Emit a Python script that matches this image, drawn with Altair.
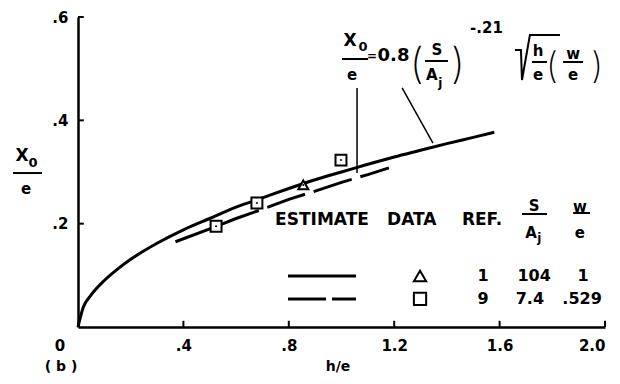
import altair as alt
import pandas as pd

# ---- data ----
curve_h = [0, 0.02, 0.05, 0.1, 0.15, 0.2, 0.3, 0.4, 0.5, 0.6, 0.7, 0.8, 0.9, 1.0, 1.1, 1.2, 1.3, 1.4, 1.5, 1.58]
curve_v = [0, 0.038, 0.062, 0.09, 0.112, 0.131, 0.162, 0.188, 0.21, 0.232, 0.25, 0.268, 0.285, 0.3, 0.315, 0.329, 0.342, 0.355, 0.367, 0.377]

dash_h = [0.37, 0.5, 0.6, 0.7, 0.8, 0.9, 1.0, 1.1, 1.18]
dash_v = [0.165, 0.19, 0.21, 0.228, 0.247, 0.263, 0.28, 0.295, 0.308]

sq_h = [0.524, 0.679, 0.998]
sq_v = [0.195, 0.24, 0.323]
tri_h = [0.855]
tri_v = [0.275]

x_ticks = [0.4, 0.8, 1.2, 1.6, 2.0]
y_ticks = [0.2, 0.4, 0.6]

# legend table
leg_rows_v = [0.0987, 0.0542]
leg_ref = ["1", "9"]
leg_sa = ["104", "7.4"]
leg_we = ["1", ".529"]

# ---- scales / axes ----
FONT = "DejaVu Sans"
xs = alt.Scale(domain=[0, 2.0], nice=False, zero=False)
ys = alt.Scale(domain=[0, 0.6], nice=False, zero=False)
xax = alt.Axis(values=x_ticks, title=None, grid=False, ticks=False, domainColor="black",
               domainWidth=2.5, labelFont=FONT, labelFontWeight="bold", labelFontSize=15,
               labelColor="black", labelPadding=11,
               labelExpr="datum.value < 1 ? substring(format(datum.value, '.1f'), 1) : format(datum.value, '.1f')")
yax = alt.Axis(values=y_ticks, title=None, grid=False, ticks=False, domainColor="black",
               domainWidth=2.5, labelFont=FONT, labelFontWeight="bold", labelFontSize=15,
               labelColor="black", labelPadding=10,
               labelExpr="substring(format(datum.value, '.1f'), 1)")


def X(f="h"):
    return alt.X(f"{f}:Q", scale=xs, axis=xax)


def Y(f="v"):
    return alt.Y(f"{f}:Q", scale=ys, axis=yax)


layers = []

# axis inward ticks
ytk = pd.DataFrame({"h": [0.0] * len(y_ticks), "h2": [0.022] * len(y_ticks), "v": y_ticks})
layers.append(alt.Chart(ytk).mark_rule(color="black", strokeWidth=2).encode(x=X(), x2="h2:Q", y=Y()))
xtk = pd.DataFrame({"h": x_ticks, "v": [0.0] * len(x_ticks), "v2": [0.012] * len(x_ticks)})
layers.append(alt.Chart(xtk).mark_rule(color="black", strokeWidth=2).encode(x=X(), y=Y(), y2="v2:Q"))

# curves
cdf = pd.DataFrame({"h": curve_h, "v": curve_v})
layers.append(alt.Chart(cdf).mark_line(color="black", strokeWidth=3, interpolate="monotone").encode(x=X(), y=Y()))
ddf = pd.DataFrame({"h": dash_h, "v": dash_v})
layers.append(alt.Chart(ddf).mark_line(color="black", strokeWidth=3, strokeDash=[40, 9]).encode(x=X(), y=Y()))

# markers
sdf = pd.DataFrame({"h": sq_h, "v": sq_v})
tdf = pd.DataFrame({"h": tri_h, "v": tri_v})
layers.append(alt.Chart(sdf).mark_point(shape="square", size=120, filled=True, color="white",
                                        stroke="black", strokeWidth=2, opacity=1).encode(x=X(), y=Y()))
layers.append(alt.Chart(tdf).mark_point(shape="triangle-up", size=100, filled=True, color="white",
                                        stroke="black", strokeWidth=2, opacity=1).encode(x=X(), y=Y()))
dots = pd.concat([sdf, tdf])
layers.append(alt.Chart(dots).mark_point(shape="circle", size=4, filled=True, color="black",
                                         opacity=1).encode(x=X(), y=Y()))

# leader lines
lead = pd.DataFrame({"h": [1.059, 1.230], "h2": [1.059, 1.347], "v": [0.4626, 0.4626], "v2": [0.298, 0.3561]})
layers.append(alt.Chart(lead).mark_rule(color="black", strokeWidth=1.5).encode(x=X(), x2="h2:Q", y=Y(), y2="v2:Q"))

# fraction bars
bars = pd.DataFrame({
    "h": [1.002, 1.317, 1.723, 1.841, -0.2467, 1.685, 1.879],
    "h2": [1.101, 1.404, 1.780, 1.917, -0.1366, 1.780, 1.943],
    "v": [0.5187, 0.5148, 0.5129, 0.5129, 0.298, 0.2187, 0.2206],
})
layers.append(alt.Chart(bars).mark_rule(color="black", strokeWidth=2).encode(x=X(), x2="h2:Q", y=Y()))

# radical sign
rad = pd.DataFrame({"h": [1.658, 1.681, 1.685, 1.715, 1.829],
                    "v": [0.5361, 0.5361, 0.4780, 0.5651, 0.5651],
                    "o": [0, 1, 2, 3, 4]})
layers.append(alt.Chart(rad).mark_line(color="black", strokeWidth=2).encode(x=X(), y=Y(), order="o:Q"))

# legend sample lines and markers
lsol = pd.DataFrame({"h": [0.797], "h2": [1.055], "v": [leg_rows_v[0]]})
layers.append(alt.Chart(lsol).mark_rule(color="black", strokeWidth=3).encode(x=X(), x2="h2:Q", y=Y()))
ldash = pd.DataFrame({"h": [0.797], "h2": [1.055], "v": [leg_rows_v[1]]})
layers.append(alt.Chart(ldash).mark_rule(color="black", strokeWidth=3, strokeDash=[38, 6]).encode(x=X(), x2="h2:Q", y=Y()))
ltri = pd.DataFrame({"h": [1.298], "v": [leg_rows_v[0]]})
layers.append(alt.Chart(ltri).mark_point(shape="triangle-up", size=150, stroke="black", strokeWidth=2,
                                         opacity=1).encode(x=X(), y=Y()))
lsq = pd.DataFrame({"h": [1.298], "v": [leg_rows_v[1]]})
layers.append(alt.Chart(lsq).mark_point(shape="square", size=150, stroke="black", strokeWidth=2,
                                        opacity=1).encode(x=X(), y=Y()))

# ---- texts ----
center_texts = [
    # formula
    ("X", 1.032, 0.5535, 17), ("0", 1.082, 0.5419, 13), ("e", 1.040, 0.4877, 15),
    ("=", 1.116, 0.5245, 12),
    ("S", 1.362, 0.5361, 15), ("A", 1.343, 0.4877, 15), ("j", 1.375, 0.4722, 12),
    ("-.21", 1.550, 0.5787, 15),
    ("h", 1.746, 0.5342, 15), ("e", 1.746, 0.4877, 15),
    ("w", 1.879, 0.5284, 15), ("e", 1.879, 0.4877, 15),
    # y title
    ("X", -0.2125, 0.331, 17), ("0", -0.1708, 0.3174, 13), ("e", -0.1973, 0.2671, 15),
    # legend header
    ("S", 1.731, 0.2342, 15), ("A", 1.719, 0.1819, 15), ("j", 1.751, 0.1722, 12),
    ("w", 1.905, 0.2322, 15), ("e", 1.905, 0.1819, 15),
    # legend rows
    (leg_ref[0], 1.537, leg_rows_v[0], 16), (leg_sa[0], 1.731, leg_rows_v[0], 16), (leg_we[0], 1.917, leg_rows_v[0], 16),
    (leg_ref[1], 1.537, leg_rows_v[1], 16), (leg_sa[1], 1.715, leg_rows_v[1], 16), (leg_we[1], 1.913, leg_rows_v[1], 16),
    # bottom
    ("0", -0.0683, -0.0368, 15), ("( b )", -0.0645, -0.0765, 14), ("h/e", 0.987, -0.0765, 14),
]
left_texts = [
    ("0.8", 1.137, 0.5245, 18),
    ("ESTIMATE", 0.748, 0.2071, 17), ("DATA", 1.173, 0.2071, 17), ("REF.", 1.457, 0.2071, 17),
]
paren_texts = [
    ("(", 1.285, 0.5071, 42), (")", 1.442, 0.5071, 42),
    ("(", 1.799, 0.5032, 36), (")", 1.970, 0.5032, 36),
]


def text_layer(rows, align, weight, font):
    df = pd.DataFrame(rows, columns=["t", "h", "v", "s"])
    return alt.Chart(df).mark_text(align=align, baseline="middle", fontWeight=weight, font=font,
                                   color="black").encode(
        x=X(), y=Y(), text="t:N", size=alt.Size("s:Q", scale=None, legend=None))


layers.append(text_layer(center_texts, "center", "bold", FONT))
layers.append(text_layer(left_texts, "left", "bold", FONT))
layers.append(text_layer(paren_texts, "center", 200, "Inter"))

chart = alt.layer(*layers).properties(
    width=527, height=310,
    autosize=alt.AutoSizeParams(type="none"),
    padding={"left": 70, "top": 9, "right": 7, "bottom": 49},
    background="white",
).configure_view(stroke=None)

chart.save("out.html", embed_options={"renderer": "svg", "actions": False})
